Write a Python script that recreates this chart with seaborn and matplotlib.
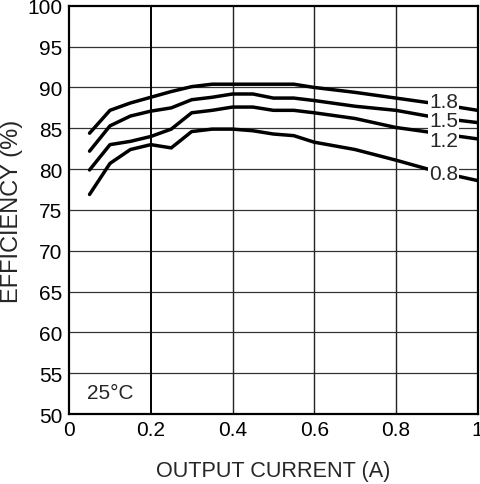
import pandas as pd
import numpy as np
import seaborn as sns
import matplotlib.pyplot as plt

# dados (eficiencia x corrente de saida)
corrente = [0.05, 0.1, 0.15, 0.2, 0.25, 0.3, 0.35, 0.4, 0.45, 0.5, 0.55, 0.6, 0.7, 0.8, 0.9, 1.0]
ef_18 = [84.4, 87.2, 88.1, 88.8, 89.5, 90.1, 90.4, 90.4, 90.4, 90.4, 90.4, 90.0, 89.4, 88.7, 88.0, 87.2]
ef_15 = [82.2, 85.3, 86.5, 87.1, 87.5, 88.5, 88.8, 89.2, 89.2, 88.7, 88.7, 88.4, 87.7, 87.2, 86.3, 85.7]
ef_12 = [79.9, 83.0, 83.4, 84.0, 84.9, 86.9, 87.2, 87.6, 87.6, 87.2, 87.2, 86.9, 86.2, 85.1, 84.4, 83.7]
ef_08 = [76.9, 80.7, 82.4, 83.0, 82.6, 84.6, 84.9, 84.9, 84.7, 84.3, 84.1, 83.3, 82.4, 81.1, 79.7, 78.6]

rotulos = ['1.8', '1.5', '1.2', '0.8']
rotulo_y = [88.3, 85.9, 83.5, 79.5]

df = pd.DataFrame({
    'corrente': corrente * 4,
    'eficiencia': ef_18 + ef_15 + ef_12 + ef_08,
    'vout': np.repeat(rotulos, len(corrente)),
})

sns.set_style('white')
plt.rcParams['font.family'] = ['Liberation Sans', 'DejaVu Sans']

fig = plt.figure(figsize=(4.8, 4.85), dpi=100)
ax = fig.add_axes([0.144, 0.144, 0.851, 0.842])

sns.lineplot(data=df, x='corrente', y='eficiencia', hue='vout',
             palette=['black'] * 4, linewidth=2.5, legend=False, ax=ax, zorder=3)

ax.set_xlim(0, 1)
ax.set_ylim(50, 100)
ax.set_xticks([0, 0.2, 0.4, 0.6, 0.8, 1])
ax.set_xticklabels(['0', '0.2', '0.4', '0.6', '0.8', '1'])
ax.set_yticks(range(50, 101, 5))

# grade
for v in range(55, 100, 5):
    ax.axhline(v, color='#333333', linewidth=0.9, zorder=1)
ax.axvline(0.2, color='black', linewidth=1.4, zorder=1)
for v in [0.4, 0.6, 0.8]:
    ax.axvline(v, color='#222222', linewidth=1.0, zorder=1)

for s in ax.spines.values():
    s.set_linewidth(1.6)
    s.set_color('black')

ax.tick_params(axis='both', length=0, labelsize=15, colors='black')
ax.tick_params(axis='y', pad=5)
ax.tick_params(axis='x', pad=4)

ax.set_xlabel('OUTPUT CURRENT (A)', fontsize=15.6, labelpad=15)
ax.set_ylabel('EFFICIENCY (%)', fontsize=17, labelpad=3)

# rotulos das curvas
for r, yv in zip(rotulos, rotulo_y):
    ax.text(0.917, yv, r, fontsize=15, ha='center', va='center', zorder=4,
            bbox=dict(facecolor='white', edgecolor='none', pad=0.8))

ax.text(0.1, 52.6, '25°C', fontsize=15, ha='center', va='center')

plt.savefig('out.png', dpi=100)
